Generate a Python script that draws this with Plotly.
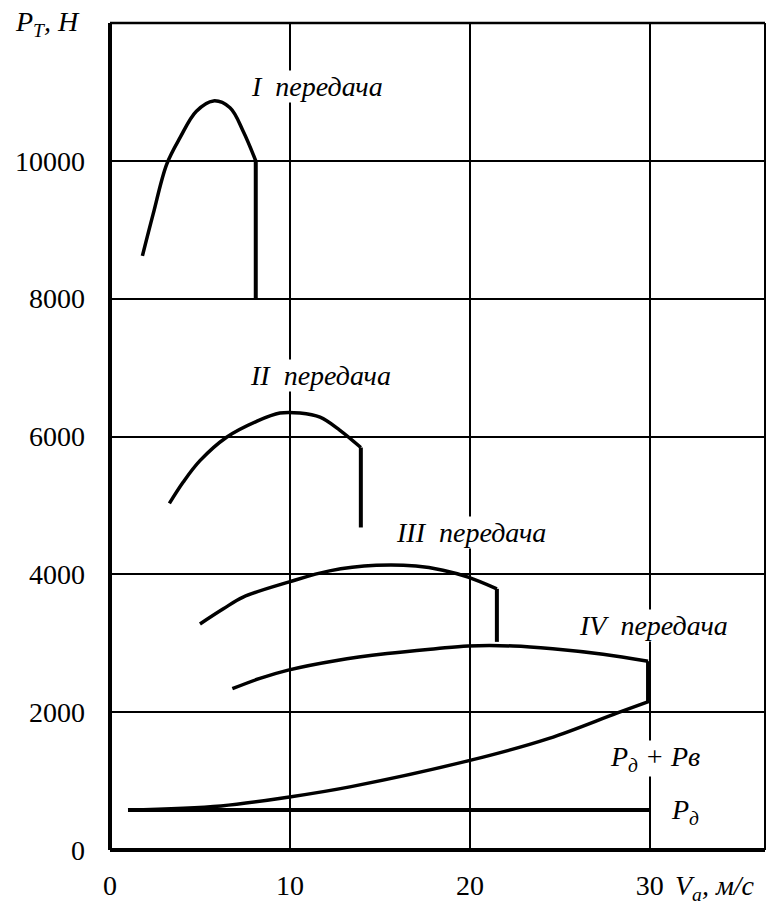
import plotly.graph_objects as go

# Traction force vs. vehicle speed for each gear, plus resistance curves.
# The last point of each gear list is the foot of the vertical cut-off line.
v_gear1 = [1.8, 2.4, 3.15, 3.9, 4.8, 5.75, 6.67, 7.4, 8.1, 8.1]
p_gear1 = [8620, 9230, 9950, 10340, 10720, 10870, 10770, 10430, 10000, 8000]

v_gear2 = [3.3, 4.07, 5.0, 6.48, 8.15, 9.44, 10.56, 11.67, 12.78, 13.94, 13.94]
p_gear2 = [5030, 5340, 5650, 5990, 6220, 6340, 6340, 6280, 6090, 5840, 4680]

v_gear3 = [5.0, 6.3, 7.4, 9.96, 12.2, 14.8, 17.0, 18.5, 19.9, 21.5, 21.5]
p_gear3 = [3280, 3500, 3670, 3890, 4050, 4130, 4120, 4060, 3960, 3790, 3020]

v_gear4 = [6.8, 8.33, 9.9, 12.6, 15.4, 18.1, 19.9, 22.4, 24.6, 27.4, 29.9, 29.9]
p_gear4 = [2340, 2490, 2610, 2750, 2850, 2920, 2960, 2960, 2920, 2840, 2740, 2160]

v_resist = [1.0, 6.17, 9.98, 13.4, 20.0, 24.4, 28.2, 30.0]
p_resist = [580, 640, 770, 920, 1300, 1620, 1990, 2160]

v_road = [1.0, 30.0]
p_road = [580, 580]

x_ticks = [0, 10, 20, 30]
y_ticks = [0, 2000, 4000, 6000, 8000, 10000]

gear_labels = ["I", "II", "III", "IV"]
gear_label_pos = [(11.5, 11085), (11.7, 6880), (20.05, 4610), (30.2, 3260)]

FONT = "Liberation Serif"
FS = 28
TXT = dict(family=FONT, size=FS, color="black")
LINE = dict(color="black", width=3.5)

fig = go.Figure()
for vx, py in [(v_gear1, p_gear1), (v_gear2, p_gear2),
               (v_gear3, p_gear3), (v_gear4, p_gear4)]:
    # smooth characteristic
    fig.add_trace(go.Scatter(x=vx[:-1], y=py[:-1], mode="lines", line=LINE,
                             line_shape="spline", line_smoothing=1.0,
                             hoverinfo="skip"))
    # vertical cut-off at the maximum speed in this gear
    fig.add_trace(go.Scatter(x=vx[-2:], y=py[-2:], mode="lines",
                             line=dict(color="black", width=4), hoverinfo="skip"))
fig.add_trace(go.Scatter(x=v_resist, y=p_resist, mode="lines", line=LINE,
                         line_shape="spline", line_smoothing=1.0, hoverinfo="skip"))
fig.add_trace(go.Scatter(x=v_road, y=p_road, mode="lines",
                         line=dict(color="black", width=4), hoverinfo="skip"))

annotations = []
for name, (ax, ay) in zip(gear_labels, gear_label_pos):
    annotations.append(dict(x=ax, y=ay, xref="x", yref="y",
                            xanchor="center", yanchor="middle",
                            text=f"<i>{name}&nbsp;&nbsp;передача</i>",
                            showarrow=False, bgcolor="white", borderpad=0,
                            font=TXT))
annotations += [
    dict(x=30.3, y=1330, xref="x", yref="y", xanchor="center", yanchor="middle",
         text="<i>P<sub>д</sub> + Pв</i>", showarrow=False,
         bgcolor="white", borderpad=0, font=TXT),
    dict(x=31.95, y=560, xref="x", yref="y", xanchor="center", yanchor="middle",
         text="<i>P<sub>д</sub></i>", showarrow=False, font=TXT),
    dict(x=0.924, y=-0.045, xref="paper", yref="paper",
         xanchor="center", yanchor="middle",
         text="<i>V<sub>a</sub>, м/с</i>", showarrow=False, font=TXT),
    dict(x=-0.096, y=1.0, xref="paper", yref="paper",
         xanchor="center", yanchor="middle",
         text="<i>P<sub>T</sub>, H</i>", showarrow=False, font=TXT),
]

shapes = [
    dict(type="line", xref="paper", yref="paper", x0=0, x1=0, y0=0, y1=1,
         line=dict(color="black", width=4)),
    dict(type="line", xref="paper", yref="paper", x0=0, x1=1, y0=0, y1=0,
         line=dict(color="black", width=4)),
    dict(type="line", xref="paper", yref="paper", x0=0, x1=1, y0=1, y1=1,
         line=dict(color="black", width=2.5)),
    dict(type="line", xref="paper", yref="paper", x0=1, x1=1, y0=0, y1=1,
         line=dict(color="black", width=2)),
]

fig.update_layout(
    width=772, height=909,
    margin=dict(l=110, r=7, t=23, b=59),
    paper_bgcolor="white", plot_bgcolor="white",
    showlegend=False,
    annotations=annotations, shapes=shapes,
    xaxis=dict(range=[0, 36.4], tickvals=x_ticks, ticktext=[str(t) for t in x_ticks],
               showgrid=True, gridcolor="black", gridwidth=1.5, zeroline=False,
               showline=False, ticks="", ticklabelstandoff=16, tickfont=TXT),
    yaxis=dict(range=[0, 12000], tickvals=y_ticks, ticktext=[str(t) for t in y_ticks],
               showgrid=True, gridcolor="black", gridwidth=1.5, zeroline=False,
               showline=False, ticks="", ticklabelstandoff=24, tickfont=TXT),
)

fig.write_html("out.html")
